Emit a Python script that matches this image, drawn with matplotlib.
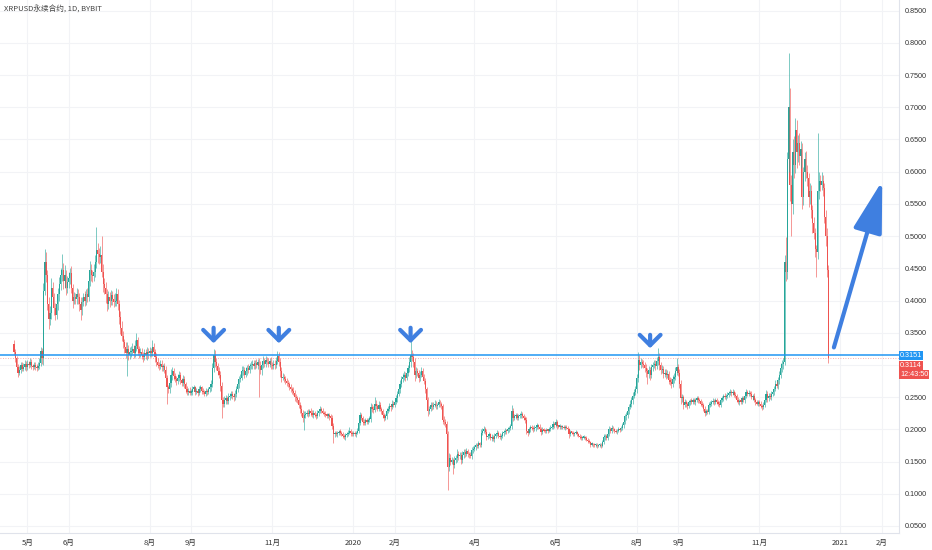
import numpy as np
import matplotlib.pyplot as plt

plt.rcParams['font.family'] = ['Noto Sans CJK SC', 'DejaVu Sans']

# daily candles from 2019-04-21, prices in 1/1000 USD
start = np.datetime64('2019-04-21')
first_open = 332

close = [
    320, 310, 296, 288, 292, 300, 294, 297, 302, 296,  # 2019-04
    302, 300, 305, 298, 296, 300, 297, 295, 299, 303, 322, 310, 415, 460, 440, 395, 372, 380, 420, 405,
    388, 378, 395, 410, 425, 440, 447, 430, 440, 420, 428,  # 05
    435, 442, 420, 400, 405, 402, 410, 405, 395, 385, 398, 405, 400, 410, 405, 430, 447, 440, 438, 445,
    460, 478, 472, 468, 470, 445, 425, 420, 410, 395,  # 06
    405, 400, 408, 402, 398, 400, 410, 395, 375, 358, 345, 335, 328, 318, 325, 315, 320, 322, 325, 318,
    330, 338, 325, 318, 320, 315, 312, 318, 315, 320, 318,  # 07
    322, 318, 328, 320, 312, 305, 300, 298, 302, 296, 298, 292, 280, 265, 262, 272, 285, 290, 283, 278,
    275, 280, 284, 276, 272, 278, 270, 262, 258, 260, 257,  # 08
    258, 262, 265, 258, 260, 256, 262, 265, 260, 258, 255, 260, 258, 262, 265, 270, 295, 315, 305, 298,
    290, 285, 268, 245, 240, 245, 248, 244, 250, 252,  # 09
    255, 252, 250, 255, 262, 270, 278, 280, 290, 292, 285, 290, 295, 292, 298, 300, 302, 298, 303, 300,
    304, 298, 292, 300, 306, 302, 308, 305, 302, 306, 300,  # 10
    298, 302, 300, 306, 314, 305, 290, 280, 282, 278, 275, 272, 270, 266, 262, 260, 257, 250, 248, 245,
    238, 232, 226, 218, 222, 224, 226, 224, 228, 226,  # 11
    222, 225, 222, 220, 225, 228, 231, 229, 226, 224, 222, 221, 222, 219, 218, 205, 192, 194, 192, 194,
    196, 195, 192, 190, 188, 191, 193, 195, 198, 194, 193,  # 12
    194, 192, 195, 198, 210, 222, 218, 212, 210, 214, 212, 215, 216, 235, 232, 230, 240, 236, 232, 238,
    232, 228, 222, 218, 220, 228, 232, 236, 234, 240, 238,  # 2020-01
    242, 248, 255, 262, 270, 278, 282, 285, 280, 288, 295, 305, 315, 312, 305, 285, 290, 288, 280, 285,
    290, 282, 275, 262, 245, 228, 232, 238, 235,  # 02
    238, 240, 236, 238, 242, 240, 236, 215, 212, 208, 192, 141, 155, 150, 152, 145, 152, 155, 162, 158,
    160, 152, 160, 165, 162, 166, 162, 160, 158, 168, 170,  # 03
    172, 175, 174, 178, 176, 195, 198, 200, 196, 188, 190, 192, 186, 188, 185, 190, 192, 195, 190, 188,
    190, 194, 196, 198, 197, 200, 202, 205, 228, 218,  # 04
    220, 222, 218, 220, 222, 224, 220, 218, 215, 198, 195, 200, 203, 202, 200, 202, 204, 206, 204, 200,
    196, 199, 198, 197, 199, 198, 200, 202, 203, 208, 206,  # 05
    212, 205, 204, 205, 203, 204, 202, 204, 202, 200, 192, 196, 195, 193, 194, 196, 192, 190, 188, 186,
    187, 188, 186, 184, 182, 180, 176, 177, 176, 175,  # 06
    176, 174, 175, 176, 174, 180, 188, 190, 186, 192, 200, 198, 202, 200, 198, 196, 198, 200, 199, 202,
    206, 212, 220, 222, 228, 235, 240, 245, 252, 258, 262,  # 07
    280, 308, 300, 304, 302, 300, 295, 290, 286, 292, 285, 296, 300, 302, 298, 306, 312, 300, 292, 294,
    286, 288, 284, 286, 276, 274, 270, 278, 282, 290, 296,  # 08
    288, 270, 248, 250, 238, 242, 240, 236, 242, 244, 243, 245, 242, 246, 248, 245, 244, 240, 238, 232,
    226, 228, 227, 238, 240, 242, 244, 242, 245, 243,  # 09
    240, 238, 245, 248, 252, 250, 252, 254, 256, 258, 256, 258, 254, 252, 246, 242, 244, 243, 248, 245,
    252, 258, 255, 257, 255, 250, 252, 245, 242, 240, 242,  # 10
    240, 236, 234, 238, 245, 255, 248, 252, 250, 255, 258, 262, 270, 268, 276, 285, 295, 302, 305, 460,
    445, 620, 700, 580, 550, 630, 610, 665, 630, 645,  # 11
    625, 635, 560, 600, 620, 600, 590, 560, 570, 540, 520, 505, 480, 475, 570, 585, 580, 585, 575, 530,
    500, 447, 311.4,  # 12
]

upper_wick = [
    6, 5, 4, 5, 6, 5, 4, 6, 5, 4,
    5, 4, 6, 4, 3, 5, 4, 5, 6, 8, 6, 5, 12, 20, 15, 8, 10, 12, 15, 8, 6, 8, 10, 9, 12, 10, 25, 12, 15, 8, 10,
    10, 8, 12, 6, 8, 7, 9, 8, 6, 10, 8, 7, 9, 8, 10, 12, 15, 10, 8, 12, 10, 36, 12, 10, 14, 30, 12, 10, 9, 8,
    10, 8, 9, 7, 8, 12, 10, 8, 6, 8, 10, 7, 6, 8, 10, 6, 8, 7, 9, 6, 8, 12, 6, 5, 7, 6, 5, 7, 6, 8, 6,
    6, 5, 10, 6, 5, 6, 5, 4, 6, 5, 4, 5, 6, 5, 4, 6, 8, 6, 5, 4, 5, 6, 7, 5, 4, 6, 5, 4, 5, 4, 5,
    4, 5, 4, 3, 4, 3, 5, 4, 3, 4, 3, 4, 3, 4, 5, 6, 8, 10, 8, 6, 5, 6, 5, 6, 5, 6, 5, 4, 6, 5,
    5, 4, 5, 6, 5, 6, 5, 6, 8, 6, 5, 6, 5, 6, 5, 6, 5, 6, 5, 6, 5, 6, 8, 6, 8, 5, 6, 5, 6, 5, 6,
    5, 6, 5, 6, 8, 6, 5, 6, 5, 4, 5, 4, 5, 4, 5, 4, 5, 4, 5, 4, 5, 4, 5, 4, 6, 5, 4, 5, 4, 5,
    4, 5, 3, 4, 5, 4, 5, 3, 4, 3, 4, 3, 4, 3, 4, 4, 5, 4, 3, 4, 3, 4, 3, 4, 3, 4, 3, 4, 5, 3, 4,
    3, 4, 3, 4, 5, 5, 4, 3, 4, 3, 4, 3, 4, 6, 5, 4, 10, 5, 4, 6, 4, 3, 4, 3, 4, 5, 4, 5, 4, 5, 4,
    4, 5, 4, 5, 6, 5, 6, 5, 4, 6, 5, 8, 24, 8, 6, 5, 6, 5, 4, 5, 6, 5, 4, 5, 4, 5, 4, 5, 4,
    4, 5, 4, 3, 5, 4, 3, 4, 5, 4, 5, 6, 8, 6, 5, 4, 6, 5, 8, 5, 4, 5, 6, 5, 4, 5, 4, 3, 4, 5, 4,
    3, 4, 3, 4, 3, 5, 4, 5, 3, 4, 3, 4, 3, 4, 3, 4, 3, 4, 3, 4, 3, 4, 3, 4, 3, 4, 3, 4, 9, 5,
    4, 3, 4, 3, 4, 5, 3, 4, 3, 4, 3, 4, 3, 4, 3, 4, 3, 4, 3, 4, 3, 4, 3, 2, 3, 2, 3, 4, 3, 5, 3,
    4, 3, 2, 3, 2, 3, 2, 3, 2, 3, 2, 3, 2, 3, 2, 3, 2, 3, 2, 3, 2, 3, 2, 3, 2, 3, 2, 3, 2, 3,
    2, 3, 2, 3, 2, 3, 4, 3, 2, 4, 5, 3, 4, 3, 2, 3, 2, 3, 2, 3, 4, 5, 4, 5, 6, 5, 6, 5, 6, 5, 6,
    6, 12, 8, 6, 5, 6, 5, 6, 5, 6, 5, 6, 5, 6, 5, 6, 15, 6, 5, 6, 5, 6, 5, 6, 5, 6, 5, 6, 5, 6, 14,
    6, 5, 6, 5, 4, 5, 4, 3, 4, 3, 4, 3, 4, 3, 4, 3, 4, 3, 4, 3, 4, 3, 4, 5, 4, 3, 4, 3, 4, 3,
    3, 4, 3, 4, 3, 4, 3, 4, 3, 4, 3, 4, 3, 4, 3, 4, 3, 4, 3, 4, 3, 4, 3, 4, 3, 4, 3, 4, 3, 4, 3,
    3, 4, 3, 4, 5, 6, 4, 5, 4, 5, 4, 5, 6, 5, 6, 6, 8, 6, 5, 10, 38, 10, 84, 30, 15, 20, 25, 18, 15, 12,
    15, 12, 10, 8, 10, 12, 10, 8, 12, 10, 8, 10, 8, 6, 90, 15, 10, 15, 10, 8, 10, 12, 8,
]

lower_wick = [
    4, 6, 5, 6, 4, 5, 4, 3, 5, 6,
    4, 5, 3, 5, 4, 3, 5, 4, 3, 5, 4, 8, 10, 6, 12, 10, 17, 10, 8, 12, 10, 8, 6, 9, 10, 8, 10, 12, 10, 12, 8,
    8, 10, 8, 12, 6, 8, 7, 10, 12, 15, 8, 6, 9, 7, 8, 6, 8, 10, 9, 7, 8, 10, 14, 12, 10, 8, 12, 10, 14, 12,
    8, 10, 7, 9, 8, 6, 8, 10, 12, 10, 8, 9, 10, 8, 35, 8, 6, 7, 5, 8, 6, 8, 10, 7, 5, 6, 8, 5, 6, 7, 8,
    5, 6, 4, 6, 8, 6, 5, 6, 4, 5, 6, 5, 8, 25, 6, 5, 6, 8, 6, 5, 6, 4, 5, 6, 5, 4, 6, 5, 4, 5, 4,
    3, 4, 3, 4, 3, 4, 3, 4, 5, 3, 4, 3, 4, 3, 4, 5, 4, 6, 8, 6, 5, 6, 8, 28, 6, 5, 6, 5, 4, 5,
    4, 5, 6, 4, 5, 4, 6, 5, 4, 6, 5, 4, 6, 5, 4, 5, 6, 5, 4, 5, 6, 48, 6, 8, 5, 6, 5, 4, 6, 5, 6,
    5, 4, 6, 5, 4, 6, 8, 6, 4, 5, 4, 5, 4, 5, 4, 5, 4, 6, 5, 4, 5, 6, 5, 6, 19, 5, 4, 5, 4, 5,
    3, 4, 3, 4, 3, 4, 3, 4, 3, 4, 3, 4, 3, 4, 3, 5, 14, 4, 3, 4, 3, 4, 3, 4, 3, 4, 3, 4, 3, 4, 3,
    4, 3, 4, 3, 4, 3, 4, 5, 3, 4, 3, 4, 3, 4, 5, 4, 3, 5, 4, 3, 4, 5, 4, 5, 3, 4, 3, 4, 5, 3, 4,
    4, 3, 5, 4, 5, 4, 5, 6, 5, 4, 5, 6, 8, 6, 8, 10, 6, 5, 6, 5, 4, 6, 5, 6, 5, 8, 5, 4, 5,
    3, 4, 5, 4, 3, 5, 4, 6, 5, 4, 8, 35, 6, 5, 4, 15, 5, 4, 6, 5, 4, 6, 5, 4, 5, 4, 5, 4, 3, 4, 5,
    3, 4, 3, 3, 4, 3, 4, 3, 4, 5, 3, 4, 3, 4, 3, 4, 3, 3, 4, 3, 4, 3, 4, 3, 4, 3, 4, 3, 4, 5,
    3, 4, 3, 4, 3, 4, 3, 4, 5, 6, 5, 3, 4, 3, 4, 3, 4, 3, 4, 3, 5, 3, 2, 3, 2, 3, 2, 3, 2, 3, 4,
    3, 4, 2, 3, 2, 3, 2, 3, 2, 3, 5, 3, 2, 3, 4, 2, 3, 2, 3, 2, 3, 2, 3, 2, 3, 2, 3, 2, 3, 2,
    2, 3, 2, 2, 3, 2, 3, 4, 3, 2, 3, 4, 3, 2, 3, 2, 3, 2, 3, 2, 3, 4, 3, 5, 4, 5, 4, 6, 5, 4, 5,
    5, 6, 8, 5, 6, 5, 6, 8, 16, 6, 8, 5, 6, 5, 6, 5, 6, 8, 6, 5, 6, 5, 6, 5, 6, 5, 6, 5, 6, 5, 6,
    5, 6, 8, 5, 6, 4, 5, 4, 3, 4, 3, 4, 3, 4, 3, 4, 3, 4, 3, 4, 6, 4, 3, 4, 3, 4, 3, 4, 3, 4,
    4, 3, 4, 3, 4, 3, 4, 3, 4, 3, 4, 3, 4, 3, 4, 3, 4, 3, 4, 3, 4, 3, 4, 3, 4, 3, 4, 3, 4, 3, 4,
    4, 3, 4, 3, 4, 3, 5, 4, 3, 4, 3, 4, 3, 4, 5, 6, 5, 6, 8, 5, 15, 12, 20, 25, 50, 15, 20, 12, 25, 15,
    15, 20, 18, 12, 15, 10, 12, 15, 10, 12, 15, 10, 12, 38, 10, 12, 10, 8, 12, 10, 15, 10, 8,
]

tick_dates = ['2019-05-01', '2019-06-01', '2019-08-01', '2019-09-01', '2019-11-01', '2020-01-01',
              '2020-02-01', '2020-04-01', '2020-06-01', '2020-08-01', '2020-09-01', '2020-11-01',
              '2021-01-01', '2021-02-01']
tick_labels = ['5月', '6月', '8月', '9月', '11月', '2020', '2月', '4月', '6月', '8月', '9月', '11月',
               '2021', '2月']

level = 0.3151
last_price = 0.3114
touch_dates = ['2019-09-18', '2019-11-06', '2020-02-13', '2020-08-11']

assert len(close) == len(upper_wick) == len(lower_wick)

c = np.array(close) / 1000
o = np.r_[first_open / 1000, c[:-1]]
hi = np.maximum(o, c) + np.array(upper_wick) / 1000
lo = np.minimum(o, c) - np.array(lower_wick) / 1000
x = np.arange(len(c))
up = c >= o

green = '#26a69a'
red = '#ef5350'
blue = '#3f7fe0'
axis_font = ['Liberation Sans', 'Noto Sans CJK SC', 'DejaVu Sans']

fig = plt.figure(figsize=(9.32, 5.5), dpi=100)
ax = fig.add_axes([0, 17 / 550, 899 / 932, 533 / 550])
ax.set_xlim(-10.5, 665)
ax.set_ylim(0.039, 0.8666)

ticks = (np.array(tick_dates, dtype='datetime64[D]') - start).astype(int)
ax.set_xticks(ticks)
ax.set_xticklabels(tick_labels, fontsize=5.5, color='#333333', family=['Noto Sans CJK SC', 'DejaVu Sans'])
yt = np.arange(0.05, 0.851, 0.05)
ax.set_yticks(yt)
ax.yaxis.tick_right()
# the 0.3000 label sits under the price boxes, as on the reference
ax.set_yticklabels(['' if abs(v - 0.30) < 1e-6 else '%.4f' % v for v in yt],
                   fontsize=5.2, color='#333333', family=axis_font)
ax.tick_params(length=0)
ax.tick_params(axis='y', pad=4)
ax.tick_params(axis='x', pad=4)
ax.grid(True, color='#f2f3f6', lw=0.8)
ax.set_axisbelow(True)
for s in ['top', 'left']:
    ax.spines[s].set_visible(False)
for s in ['right', 'bottom']:
    ax.spines[s].set_color('#e0e3eb')

for mask, col in [(up, green), (~up, red)]:
    ax.vlines(x[mask], lo[mask], hi[mask], color=col, lw=0.7, alpha=0.6)
    body = np.maximum(np.abs(c - o), 0.002)[mask]
    ax.bar(x[mask], body, bottom=np.minimum(o, c)[mask], width=0.9, color=col, lw=0)

ax.axhline(level, color='#2196f3', lw=1.1)
ax.axhline(last_price, color=red, lw=0.6, ls=(0, (1, 2)), alpha=0.6)

# arrows marking tests of the level
for i, d in enumerate(touch_dates):
    xi = (np.datetime64(d) - start).astype(int)
    top, tip = (0.3620, 0.3293) if i < 3 else (0.3510, 0.3216)
    ax.annotate('', xy=(xi, tip), xytext=(xi, top),
                arrowprops=dict(arrowstyle='->,head_length=0.5,head_width=0.5',
                                color=blue, lw=3, mutation_scale=15))
ax.annotate('', xy=(653, 0.590), xytext=(615.5, 0.323),
            arrowprops=dict(arrowstyle='-|>,head_length=1.6,head_width=0.45',
                            color=blue, lw=3, mutation_scale=20))

# price labels on the axis
trans = ax.get_yaxis_transform()
labels = [(level, '0.3151', '#2196f3'), (0.2995, '%.4f' % last_price, red), (0.2850, '12:43:50', red)]
for yv, txt, col in labels:
    ax.text(1.001, yv, txt, transform=trans, fontsize=5.2, color='white', va='center', ha='left',
            family=axis_font, bbox=dict(boxstyle='square,pad=0.12', fc=col, ec='none'))

fig.text(0.004, 1 - 10 / 550, 'XRPUSD永续合约, 1D, BYBIT', fontsize=5.5, color='#444444', va='center')

fig.savefig('out.png', dpi=100)
